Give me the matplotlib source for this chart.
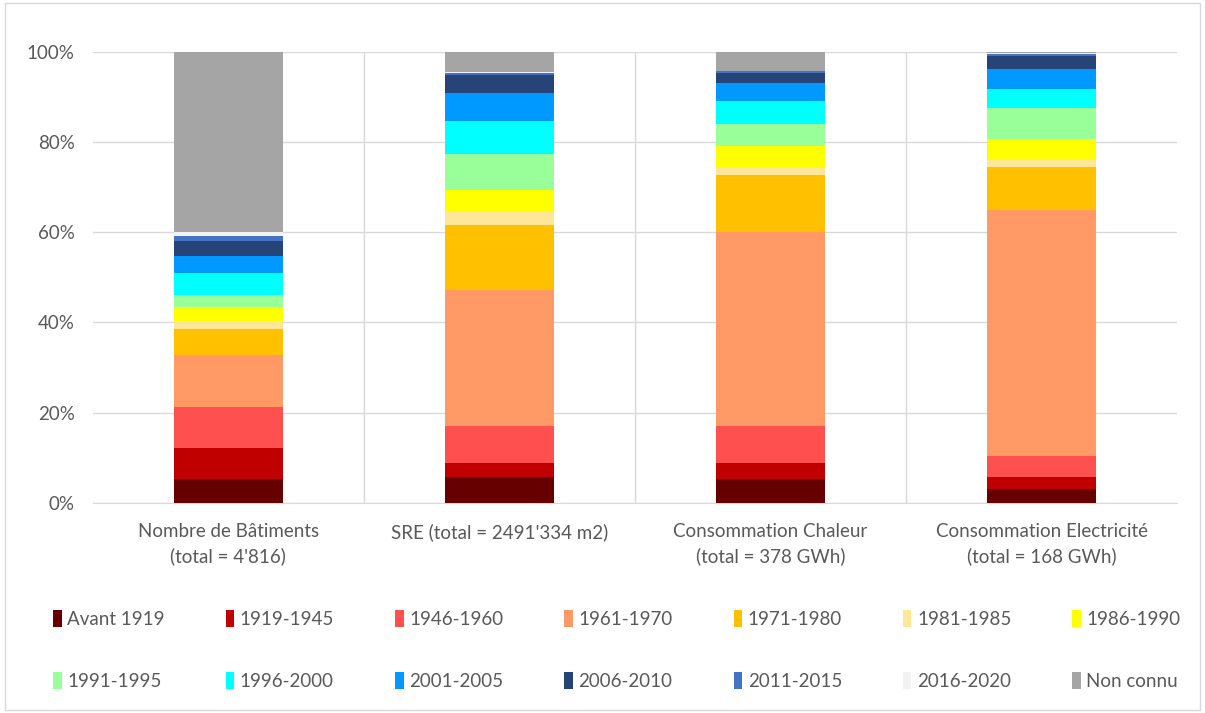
import numpy as np
import matplotlib
matplotlib.use('Agg')
import matplotlib.pyplot as plt
from matplotlib.patches import Patch, Rectangle
from matplotlib.ticker import PercentFormatter

categories = ["Nombre de Bâtiments\n(total = 4'816)",
              "SRE (total = 2491'334 m2)",
              "Consommation Chaleur\n(total = 378 GWh)",
              "Consommation Electricité\n(total = 168 GWh)"]

periods = ["Avant 1919", "1919-1945", "1946-1960", "1961-1970", "1971-1980",
           "1981-1985", "1986-1990", "1991-1995", "1996-2000", "2001-2005",
           "2006-2010", "2011-2015", "2016-2020", "Non connu"]

colors = ["#660000", "#C00000", "#FF5050", "#FF9966", "#FFC000",
          "#FFE699", "#FFFF00", "#99FF99", "#00FFFF", "#0099FF",
          "#264478", "#4472C4", "#F2F2F2", "#A5A5A5"]

# shares in % per period, one value per category
avant_1919 = [5.25, 5.6, 5.3, 3.0]
p1919_1945 = [6.95, 3.1, 3.4, 2.6]
p1946_1960 = [9.0, 8.3, 8.3, 4.8]
p1961_1970 = [11.6, 30.2, 43.1, 54.5]
p1971_1980 = [5.8, 14.4, 12.6, 9.6]
p1981_1985 = [1.8, 2.8, 1.6, 1.5]
p1986_1990 = [3.0, 5.0, 4.8, 4.8]
p1991_1995 = [2.6, 7.9, 4.9, 6.8]
p1996_2000 = [5.0, 7.5, 5.1, 4.3]
p2001_2005 = [3.8, 6.1, 4.0, 4.3]
p2006_2010 = [3.3, 3.9, 2.3, 2.9]
p2011_2015 = [1.0, 0.6, 0.3, 0.4]
p2016_2020 = [1.0, 0.1, 0.1, 0.3]
non_connu = [39.9, 4.5, 4.2, 0.2]

series = [avant_1919, p1919_1945, p1946_1960, p1961_1970, p1971_1980,
          p1981_1985, p1986_1990, p1991_1995, p1996_2000, p2001_2005,
          p2006_2010, p2011_2015, p2016_2020, non_connu]

plt.rcParams['font.family'] = ['Lato', 'DejaVu Sans']
txt = '#595959'
fs = 13.5

fig = plt.figure(figsize=(12.05, 7.13), dpi=100)
ax = fig.add_axes([0.077, 0.295, 0.9, 0.632])

x = np.arange(len(categories))
bottom = np.zeros(len(categories))
for vals, col, lab in zip(series, colors, periods):
    v = np.array(vals) / 100
    ax.bar(x, v, 0.4, bottom=bottom, color=col, label=lab, zorder=3)
    bottom += v

ax.set_xlim(-0.5, len(categories) - 0.5)
ax.set_ylim(0, 1)
ax.yaxis.set_major_formatter(PercentFormatter(1.0, decimals=0))
ax.set_yticks(np.arange(0, 1.01, 0.2))
ax.grid(axis='y', color='#D9D9D9', linewidth=1, zorder=0)
for b in np.arange(0.5, len(categories) - 0.5, 1):
    ax.axvline(b, color='#D9D9D9', linewidth=1, zorder=0)
for s in ['top', 'right', 'left']:
    ax.spines[s].set_visible(False)
ax.spines['bottom'].set_color('#D9D9D9')
ax.set_xticks(x)
ax.set_xticklabels(categories, fontsize=fs, color=txt, linespacing=1.45)
ax.tick_params(axis='both', length=0, colors=txt, labelsize=fs)
ax.tick_params(axis='x', pad=15)
ax.tick_params(axis='y', pad=13)

# legend filled row by row (7 per row)
handles = [Patch(facecolor=c, edgecolor='none') for c in colors]
order = [i + r * 7 for i in range(7) for r in range(2)]
fig.legend([handles[i] for i in order], [periods[i] for i in order],
           ncol=7, loc='center', bbox_to_anchor=(0.512, 0.088), frameon=False,
           fontsize=fs, labelcolor=txt, handlelength=0.45, handleheight=1.0,
           handletextpad=0.3, columnspacing=3.25, labelspacing=2.36)

# chart frame
fig.add_artist(Rectangle((0.004, 0.004), 0.992, 0.992, transform=fig.transFigure,
                         fill=False, edgecolor='#D9D9D9', linewidth=1))

fig.savefig('out.png', dpi=100)
